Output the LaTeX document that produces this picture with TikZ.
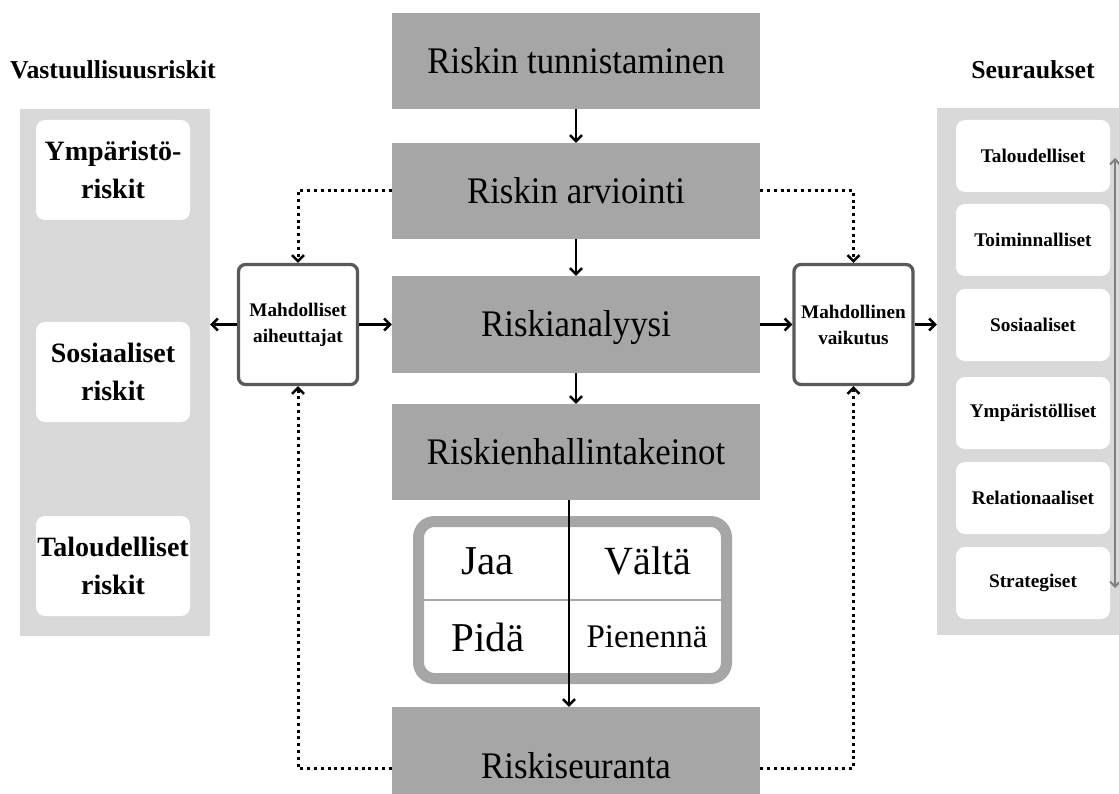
\documentclass[tikz,border=0pt]{standalone}
\usepackage{fontspec}
\setmainfont{Liberation Serif}
\newfontfamily\stepfont[FakeStretch=0.93]{Liberation Serif}
\usetikzlibrary{arrows.meta,calc}
\definecolor{stepgray}{HTML}{A6A6A6}
\definecolor{panelgray}{HTML}{D9D9D9}
\definecolor{framegray}{HTML}{595959}
\definecolor{axisgray}{HTML}{7F7F7F}

\begin{document}
\begin{tikzpicture}[x=1pt,y=-1pt,
  stepbox/.style={fill=stepgray, minimum width=368pt, minimum height=96pt, inner sep=0pt,
    font=\stepfont\fontsize{37.5}{44}\selectfont, text height=24.8pt, text depth=0pt},
  panel/.style={fill=panelgray, inner sep=0pt},
  leftitem/.style={fill=white, rounded corners=9pt, minimum width=154pt, minimum height=100pt,
    inner sep=0pt, align=center, font=\bfseries\fontsize{28}{38}\selectfont},
  rightitem/.style={fill=white, rounded corners=9pt, minimum width=154pt, minimum height=72pt,
    inner sep=0pt, font=\bfseries\fontsize{19.3}{23}\selectfont},
  hub/.style={draw=framegray, line width=3.3pt, fill=white, rounded corners=7pt,
    minimum width=119pt, minimum height=120pt, inner sep=0pt, align=center,
    font=\bfseries\fontsize{19.2}{26}\selectfont},
  heading/.style={font=\bfseries\fontsize{25.8}{30}\selectfont},
  arr/.style={line width=2.5pt, -{Straight Barb[length=6pt,width=12pt]}},
  dots/.style={line width=3pt, dash pattern=on 3pt off 3.8pt,
    -{Straight Barb[length=6pt,width=12pt,line width=2.5pt]}},
  cell/.style={anchor=base, font=\fontsize{41}{46}\selectfont},
]
\useasboundingbox (0,0) rectangle (1119,794);

% side panels
\node[panel, minimum width=190pt, minimum height=527pt] (lpanel) at (115,372.5) {};
\node[panel, minimum width=193pt, minimum height=527pt] (rpanel) at (1033.5,371.5) {};

\node[heading] (ltitle) at (113,70) {Vastuullisuusriskit};
\node[heading] (rtitle) at (1033,70) {Seuraukset};

% responsibility risks
\node[leftitem] (l1) at (113,170) {Ympäristö-\\riskit};
\node[leftitem] (l2) at (113,372) {Sosiaaliset\\riskit};
\node[leftitem] (l3) at (113,566) {Taloudelliset\\riskit};

% consequences
\node[rightitem] (r1) at (1033,156) {Taloudelliset};
\node[rightitem] (r2) at (1033,240) {Toiminnalliset};
\node[rightitem] (r3) at (1033,325) {Sosiaaliset};
\node[rightitem] (r4) at (1033,413) {Ympäristölliset};
\node[rightitem] (r5) at (1033,498) {Relationaaliset};
\node[rightitem] (r6) at (1033,583) {Strategiset};

\coordinate (axtop) at (1115,158);
\coordinate (axbot) at (1115,588);
\draw[axisgray, line width=2pt,
  {Straight Barb[length=5pt,width=10pt]}-{Straight Barb[length=5pt,width=10pt]}] (axtop) -- (axbot);

% process steps
\node[stepbox] (b1) at (576,61) {Riskin tunnistaminen};
\node[stepbox] (b2) at (576,191) {Riskin arviointi};
\node[stepbox, minimum height=97pt] (b3) at (576,324.5) {Riskianalyysi};
\node[stepbox] (b4) at (576,452) {Riskienhallintakeinot};
\node[stepbox, minimum height=118pt] (b5) at (576,766) {Riskiseuranta};

% causes and impact
\node[hub] (hubL) at (298,324.5) {Mahdolliset\\aiheuttajat};
\node[hub] (hubR) at (853.5,324.5) {Mahdollinen\\vaikutus};

% treatment options
\node[draw=stepgray, line width=11pt, rounded corners=16pt, fill=white,
  minimum width=308pt, minimum height=157pt] (mat) at (572.5,600) {};
\draw[stepgray, line width=2.5pt] ([xshift=5pt]mat.west) -- ([xshift=-5pt]mat.east);
\node[cell] (jaa) at (488,574) {Jaa};
\node[cell, font=\fontsize{40}{46}\selectfont] (valta) at (648,574) {Vältä};
\node[cell] (pida) at (488,651) {Pidä};
\node[cell, font=\fontsize{33}{38}\selectfont] (pienenna) at (647,647) {Pienennä};
\coordinate (split) at (569,600);

% flow
\draw[arr] (b1) -- (b2);
\draw[arr] (b2) -- (b3);
\draw[arr] (b3) -- (b4);
\draw[arr] (b4.south -| split) -- (b5.north -| split);

\draw[arr] (hubL.west) -- (hubL.west -| lpanel.east);
\draw[arr] (hubL.east) -- (hubL.east -| b3.west);
\draw[arr] (b3.east) -- (b3.east -| hubR.west);
\draw[arr] (hubR.east) -- (hubR.east -| rpanel.west);

\draw[dots] (b2.west) -| (hubL.north);
\draw[dots] (b2.east) -| (hubR.north);
\draw[dots] ([yshift=-2pt]b5.west) -| (hubL.south);
\draw[dots] ([yshift=-2pt]b5.east) -| (hubR.south);
\end{tikzpicture}
\end{document}
